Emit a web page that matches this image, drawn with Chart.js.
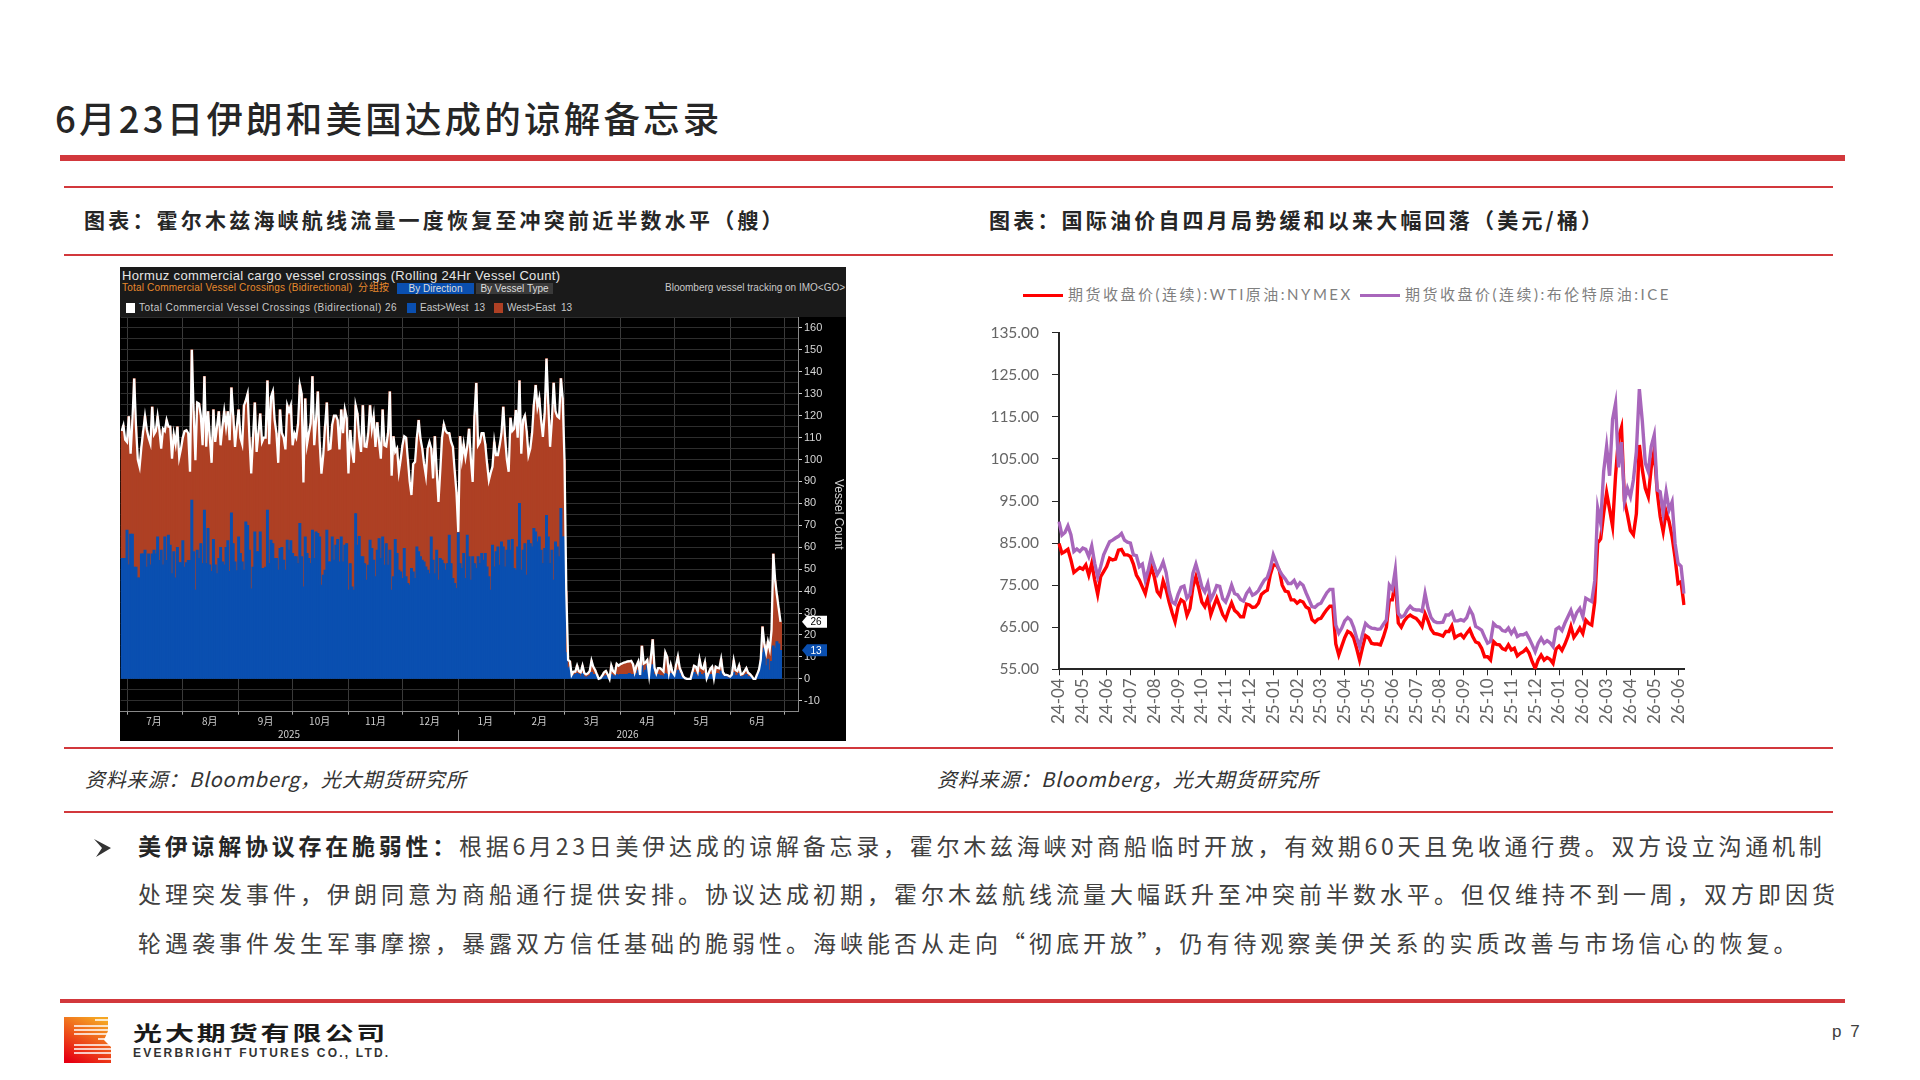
<!DOCTYPE html>
<html lang="zh-CN">
<head>
<meta charset="utf-8">
<title>6月23日伊朗和美国达成的谅解备忘录</title>
<script src="https://cdn.jsdelivr.net/npm/chart.js@4"></script>
<style>
    html, body { margin: 0; padding: 0; background: #fff; }
    #page { position: relative; width: 1920px; height: 1080px; overflow: hidden; font-family: "Noto Sans CJK SC", sans-serif; color: #262626; }
    #page div, #page svg, #page canvas { position: absolute; }
    .rule { background: #d2383c; left: 64px; width: 1769px; height: 2px; }
    .bar { background: #d2383c; left: 60px; width: 1785px; }
    .t { white-space: nowrap; line-height: 1; }
    .heading { font-size: 21px; font-weight: 700; letter-spacing: 3.2px; top: 209px; }
    .source { font-size: 20px; font-style: italic; letter-spacing: 0.8px; top: 769px; color: #333; }
    .body { font-size: 23px; letter-spacing: 4px; left: 138px; color: #404040; }
    .body b { color: #262626; }
    .bb { font-family: "Liberation Sans", sans-serif; font-size: 10px; color: #c9c9c9; }
    .swatch { width: 9px; height: 10px; top: 303px; }
    .btn { top: 283px; height: 11px; line-height: 11px; text-align: center; color: #ddd; }
    .oilLegend { font-size: 15px; letter-spacing: 2.5px; color: #7f7f7f; top: 287px; font-family: "Lato", "Noto Sans CJK SC", sans-serif; }
</style>
</head>
<body>
<div id="page">
    <div class="t" style="left:55px;top:100px;font-size:36.5px;font-weight:500;letter-spacing:3.2px;">6月23日伊朗和美国达成的谅解备忘录</div>
    <div class="bar" style="top:155px;height:6px;"></div>

    <div class="rule" style="top:186px;"></div>
    <div class="t heading" style="left:84px;">图表：霍尔木兹海峡航线流量一度恢复至冲突前近半数水平（艘）</div>
    <div class="t heading" style="left:989px;">图表：国际油价自四月局势缓和以来大幅回落（美元/桶）</div>
    <div class="rule" style="top:254px;"></div>

    <div style="left:120px;top:267px;width:726px;height:50px;background:#1a1a1a;overflow:hidden;"></div>
    <div class="t bb" style="left:122px;top:269px;font-size:13px;letter-spacing:0.35px;color:#e6e6e6;">Hormuz commercial cargo vessel crossings (Rolling 24Hr Vessel Count)</div>
    <div class="t bb" style="left:122px;top:283px;letter-spacing:0.2px;color:#e8892c;">Total Commercial Vessel Crossings (Bidirectional)&nbsp; 分组按</div>
    <div class="t bb btn" style="left:397px;width:77px;background:#0a4fb0;">By Direction</div>
    <div class="t bb btn" style="left:476px;width:77px;background:#3a3a3a;">By Vessel Type</div>
    <div class="t bb" style="left:665px;top:283px;width:181px;overflow:hidden;">Bloomberg vessel tracking on IMO&lt;GO&gt;</div>
    <div class="swatch" style="left:126px;background:#fff;"></div>
    <div class="t bb" style="left:139px;top:303px;letter-spacing:0.45px;">Total Commercial Vessel Crossings (Bidirectional) 26</div>
    <div class="swatch" style="left:407px;background:#0a4fb0;"></div>
    <div class="t bb" style="left:420px;top:303px;">East&gt;West&nbsp; 13</div>
    <div class="swatch" style="left:494px;background:#ae4024;"></div>
    <div class="t bb" style="left:507px;top:303px;">West&gt;East&nbsp; 13</div>
    <canvas id="vesselChart" style="left:120px;top:317px;width:726px;height:424px;background:#000;"></canvas>

    <div style="left:1023px;top:294px;width:40px;height:3px;background:#ff0000;"></div>
    <div class="t oilLegend" style="left:1068px;">期货收盘价(连续):WTI原油:NYMEX</div>
    <div style="left:1360px;top:294px;width:40px;height:3px;background:#a866bb;"></div>
    <div class="t oilLegend" style="left:1405px;">期货收盘价(连续):布伦特原油:ICE</div>
    <canvas id="oilChart" style="left:980px;top:320px;width:720px;height:420px;"></canvas>

    <div class="rule" style="top:747px;"></div>
    <div class="t source" style="left:85px;">资料来源：Bloomberg，光大期货研究所</div>
    <div class="t source" style="left:937px;">资料来源：Bloomberg，光大期货研究所</div>
    <div class="rule" style="top:811px;"></div>

    <svg style="left:93px;top:838px;" width="20" height="20" viewBox="0 0 20 20"><path d="M1 1 L18 10 L3 19 L9 10 Z" fill="#333"/></svg>
    <div class="t body" style="top:834px;letter-spacing:3.75px;"><b>美伊谅解协议存在脆弱性：</b>根据6月23日美伊达成的谅解备忘录，霍尔木兹海峡对商船临时开放，有效期60天且免收通行费。双方设立沟通机制</div>
    <div class="t body" style="top:882px;">处理突发事件，伊朗同意为商船通行提供安排。协议达成初期，霍尔木兹航线流量大幅跃升至冲突前半数水平。但仅维持不到一周，双方即因货</div>
    <div class="t body" style="top:931px;">轮遇袭事件发生军事摩擦，暴露双方信任基础的脆弱性。海峡能否从走向“彻底开放”，仍有待观察美伊关系的实质改善与市场信心的恢复。</div>

    <div class="bar" style="top:999px;height:4px;"></div>
    <svg style="left:64px;top:1017px;" width="47" height="46" viewBox="0 0 47 46">
        <defs><linearGradient id="logoFill" x1="0.7" y1="0" x2="0.2" y2="1"><stop offset="0" stop-color="#f5a623"/><stop offset="1" stop-color="#e60012"/></linearGradient></defs>
        <path d="M0 0H44V14L40 23L47 30V46H0Z" fill="url(#logoFill)"/>
        <path d="M10 9H47M10 13H47M10 17H47M10 28H47M10 32H47M10 36H47" stroke="#fff" stroke-width="1.6"/>
        <path d="M31 3H47M34 22H47M34 42H47" stroke="#fff" stroke-width="1.6"/>
    </svg>
    <div class="t" style="left:133px;top:1023px;font-size:20px;font-weight:700;letter-spacing:2px;color:#1a1a1a;transform:scaleX(1.45);transform-origin:left center;">光大期货有限公司</div>
    <div class="t" style="left:133px;top:1047px;font-size:12px;font-weight:700;letter-spacing:2.2px;color:#333;font-family:'Liberation Sans',sans-serif;">EVERBRIGHT FUTURES CO., LTD.</div>
    <div class="t" style="left:1832px;top:1023px;font-size:17px;letter-spacing:2px;color:#404040;font-family:'Liberation Sans',sans-serif;">p 7</div>
</div>

<script>
// Hormuz crossings, one value per day from 28 Jun 2025
const totalCrossings = [
    113,115.6,109,108,119.7,102.7,118,136.9,115,100,
    96.7,105.8,113,119.7,113.6,110,107.3,124,111.5,113,
    119.7,113.4,105,114,113,118,115,115,100.4,111.5,
    107,115,101,105,110,113,113.4,112,94.4,150,
    122,99.7,126,125.5,120,106.5,138,105.8,122,110,
    98.5,122.8,108,115,122,106.5,115,122,115,122,
    108.8,132.8,120,105.8,115,122.8,110,107,124.7,127,
    130,110,93.6,110,126,103.5,112,121,108,110,
    110,136,107,128.5,131,118,112,98.5,122.8,112,
    110,104.6,124.7,122,124.7,106.5,112,110,116,133.9,
    130,89.5,127.8,107,112,116.4,138,106.5,118,131,
    108,93.6,102,115,126,104.6,105,116,120,120,
    118,104.6,122.8,112,122.8,119,93.6,113.4,104,98.5,
    124.7,121,110,103.5,124.7,106,105.8,112,124.7,114,
    119.7,105.8,117,108,100.4,122.8,106.5,106,112,131,
    92.6,110.6,103.5,105,94.4,100,106.5,110.6,110,100,
    90,83.8,98,99,110,118,109.6,105,98,92.6,
    105,108,105,91.4,110.6,95,80.7,95,110,116,
    113,112,112,108,105.8,95,85,67,110.6,100.4,
    107,101,106,114,100,89.8,120,134.9,106.5,108,
    112,112,107,98,90.6,94,96.7,108,102,102,
    106.5,112,124,110,100,94.4,119,113,114,122.5,
    110,136,102.7,118,120,113,102,105,112,125,
    133.9,124,128,118,110.3,121,146,125,105.8,118,
    135,122,119.7,119,137,128,100,40,8.6,8,
    1.8,3.3,3.3,6,3.5,3,6,2.6,2,2.5,
    3.5,8.3,5.5,4,2,0,0.3,1.5,3,3.6,
    2,0,6,3.5,2.6,6.8,6,6.6,7,7.4,
    7.6,7.9,8,8.2,6.8,3,6,7.9,1.8,15,
    7,7.5,8.6,1.8,10,18,5,2.5,4.9,4.9,
    4.2,3.3,12,10,2.6,6.4,3,1.8,6.4,10.2,
    5,3,1,0.3,0,0,0,3,6,5.5,
    3.3,9,5,4.5,7.5,0.3,2.5,4.5,5.5,0.3,
    5.5,5,4.8,9,3,1.8,1.8,1.5,1,2,
    8.3,4,3.5,6,2,2.3,3.5,4.9,2.8,2.2,
    1.2,0,0,2,4,8.6,23.8,16,12,17,
    13.5,22,57,45,38,32,26
];
const eastWest = [
    55,55,55,67.8,52,66,66,51,51,46,
    46,57,57,58.7,51,57,52,57,58.7,57,
    64.8,54,58.7,52,64.8,54,65.5,61,48,58,
    46,60,53,53,63,51,53,54,54,81.5,
    58,40.5,58.7,55,61.7,52.6,77,52.6,68.6,52,
    49,63.6,52,48,55,60,53.4,52,60,63,
    49,75.7,61.7,53.4,49.3,64.8,57.2,53.4,49.6,71.6,
    70,58.7,41,51,67,58,58,67,50.4,50.4,
    51,77,52.6,63.3,61.7,54.9,54.9,49.6,59.5,60,
    54.2,49.6,63.3,58.7,63,57.2,55.7,55.7,52.6,70.9,
    55.7,42,64.8,57.2,54.9,52.6,67.8,54.9,67,66.3,
    64.8,42.8,47.3,49.6,67.8,53.4,53.4,64.8,54.2,61,
    63.6,53.4,64.8,53.4,61,61.7,40.5,52.6,42,40.5,
    75.4,61,65,55.7,55.7,52.6,45,51.9,63.3,59.5,
    54.2,46.6,58.7,64,54.9,64.8,51.9,61.7,51.9,58.7,
    40.5,46.6,63.6,57.2,49.6,48.8,45.8,59.5,46.6,43.5,
    42.8,50.4,48.8,45.8,60.2,58,55.7,54.2,53.4,51.1,
    49.6,48,64.8,54.2,48,58.7,45,54.9,54.2,52.6,
    49.6,52.6,65.5,52.6,45.8,43.5,41.3,66.6,52.6,50.4,
    57.2,45.8,65.5,55.7,45,55.7,52.6,50.4,55.7,52.6,
    57.2,54.2,57.2,51.1,46.6,40.5,61,51.1,58,60.2,
    51.9,62.5,60.2,51.1,58.7,63.3,58.7,63.6,50.4,49.6,
    60.2,80,49.6,58.7,61.7,47.3,63.3,61.7,60.2,68.6,
    67,62.5,64.8,58.7,52.6,59.5,74.6,64.8,52.6,58.7,
    45,62.5,60.2,55.7,77.7,64.8,64.8,12,5,5.5,
    1,1.5,2,2.5,2,1,2.5,1,0.5,1,
    1.5,3,2,2,1,0,0,0.5,1,1.5,
    0.5,0,2,1.5,1,2,1.5,2,2,2,
    2,2,2.5,2,2,1,2.5,4,1,6,
    3,4,6,0.5,5,6.5,2,1,2,1.5,
    1.5,1,2.5,2,1,2.5,2,1,2.5,4,
    2.5,1,0.5,0,0,0,0,1,3,2,
    1,3,2,1.5,2.5,0,1,2,2,0,
    2,2.5,2,3.5,1.5,1,1,0.5,0.5,1,
    3,1.5,1.5,2.5,1,1,1.5,2,1,1,
    0.5,0,0,1,3,8,12,14,6,9,
    4,8,15,14,17,16,13
];
const monthStartDays = [3,34,65,95,126,156,187,218,246,277,307,338,368];
const monthMidDays = [18,49,80,110,141,171,202,232,261,292,322,353];
const monthNames = ['7月','8月','9月','10月','11月','12月','1月','2月','3月','4月','5月','6月'];
const yearDays = [93,187,281];
const yearNames = ['2025','|','2026'];

// Oil closes, eight readings per month from 24-04
const oilMonths = ['24-04','24-05','24-06','24-07','24-08','24-09','24-10','24-11','24-12',
    '25-01','25-02','25-03','25-04','25-05','25-06','25-07','25-08','25-09','25-10','25-11','25-12',
    '26-01','26-02','26-03','26-04','26-05','26-06'];
const wtiClose = [
    84.9,82.6,83,83.5,81,78,78.6,79.2,
    78.8,79.8,77.4,80.2,76.2,72.8,77,78.2,
    79.4,81.4,81,81.2,83.3,83.5,82.2,82.2,
    81.8,80,77.4,76.2,74.6,73,76.2,79.4,
    77,73.5,72.5,76,74,71,68.5,66.3,
    69.9,71.5,71,67.8,69.5,74.6,77,74.2,
    71,69.9,71.9,68,70,71.9,70,68,
    66.9,69,70.8,69,68.4,67.5,67.5,70.5,
    70.3,69.7,69.8,70.7,72.8,73.4,73.8,77.5,
    79.8,79.8,78.6,75,73.6,73.4,71.5,71.5,
    70.7,71.3,71,69.8,69.4,66.8,66.2,66.9,
    67.1,68.2,69.2,70,70,61,58.4,60.5,
    62.5,64,63.6,62.5,60,57.2,60.2,63,
    62.5,61.2,61,61,60.8,62.7,65,71.5,
    71.5,76.2,66,65,66.5,67.4,67.9,67.4,
    67.1,66.3,65.2,68.2,66.5,64.5,63.5,63.4,
    63.2,62.9,64,64,65.3,62.5,63,63.3,
    62.5,63.6,64.5,62.8,61.5,61.2,60,58,
    58,57.2,61.6,60.9,60.8,59.9,59.6,60.8,
    59.6,60,58.2,58.8,59.2,59.9,58.8,56.8,
    55.2,57.2,58.4,57.2,57.8,57.4,56.4,59.8,
    60.5,59.5,61,62.8,65.2,62.6,63.6,64.8,
    63.5,66.7,65.9,65.5,71,85,86,92,
    97,93,89,101,110,112.5,95,91.7,
    88,87,92,108.3,102.4,98,96,103,
    107.1,97.2,91.3,87.7,92.5,90.1,86.5,81.5,
    75.4,75.8,70.3
];
const brentClose = [
    90.1,86.9,87.5,89.1,87,83,83.6,83,
    83.8,83.5,81.8,84.3,80.2,77,79.4,82.2,
    83.8,85.3,85.7,86.2,86.6,87.3,85.7,85.2,
    85,82.2,82,79.4,80,76.2,78.6,81.8,
    79.6,77.5,78.8,80.5,78,73.5,71,70.5,
    72.8,74.5,74.8,71.9,72.8,77.8,80,77.5,
    74.6,73.4,75.4,71.6,73,74.9,74.7,71.8,
    71,72.8,75,73,72.7,71.6,71.2,73,
    74,72.6,73,73.7,75,76.2,76.8,79,
    82.2,80.4,78.6,77.4,76.5,75.4,75.4,76.1,
    74.6,75.6,75,73.2,71.6,69.9,69.7,70.4,
    70.7,72,73.2,74,74,65.5,63.6,64.8,
    66.5,67.3,66.7,65,62.5,60.4,63.4,65.9,
    65.2,64.8,64.7,64.5,64.6,65.7,66.7,75,
    74,78.6,68.3,67.4,67.8,69.1,70,69.3,
    69.1,69.1,68.8,73,69.5,67.3,66.4,66.1,
    66.1,66.2,67.9,67.9,68.6,66.5,66.5,66.8,
    66.5,67.3,69.3,68,65.2,64.8,64.3,62.7,
    61.2,61.6,65.9,65.2,65,64.2,64,64.8,
    63.5,64.5,62.8,63.2,63.2,63.6,62.3,60.8,
    59.2,61.2,62.4,61.2,61.8,61.3,60.4,64.5,
    65,64.2,66,67.5,69,66.7,68.5,69.5,
    67.5,71.9,71.5,71.1,76,93.3,89.7,102,
    108,101,114.4,118.2,103,109,95,98,
    96,100,106.8,121.6,113.9,104,102,108,
    110.7,97.6,97.2,92.1,97.2,92.9,94.8,84.9,
    80.2,79.5,73
];

const POINTS_PER_MONTH = 8;

// the end tick labels add padding to the plot area, the layout here is fixed so drop it
function fixAxisSize(scale, size) {
    if (scale.isHorizontal()) scale.height = size;
    else scale.width = size;
    scale.paddingTop = 0;
    scale.paddingBottom = 0;
    scale.paddingLeft = 0;
    scale.paddingRight = 0;
}

function drawVesselChart() {
    const westEast = totalCrossings.map((v, i) => Math.max(v - eastWest[i], 0));
    const dayIndex = totalCrossings.map((v, i) => i);
    const dayMin = -0.5;
    const dayMax = 375.7;
    const labelFont = { family: '"Noto Sans CJK SC", sans-serif', size: 10 };

    // value flags on the right axis, same as the terminal shows them
    const lastValueTags = {
        id: 'lastValueTags',
        afterDraw(chart) {
            const ctx = chart.ctx;
            const scale = chart.scales.y;
            const tags = [
                { value: totalCrossings[totalCrossings.length - 1], bg: '#fff', fg: '#000' },
                { value: eastWest[eastWest.length - 1], bg: '#0a4fb0', fg: '#fff' }
            ];
            tags.forEach(tag => {
                const y = scale.getPixelForValue(tag.value);
                const x = scale.left + 4;
                ctx.save();
                ctx.fillStyle = tag.bg;
                ctx.beginPath();
                ctx.moveTo(x, y);
                ctx.lineTo(x + 5, y - 6);
                ctx.lineTo(x + 25, y - 6);
                ctx.lineTo(x + 25, y + 6);
                ctx.lineTo(x + 5, y + 6);
                ctx.closePath();
                ctx.fill();
                ctx.fillStyle = tag.fg;
                ctx.font = '10px "Liberation Sans", sans-serif';
                ctx.textAlign = 'center';
                ctx.textBaseline = 'middle';
                ctx.fillText(tag.value, x + 14, y + 0.5);
                ctx.restore();
            });
        }
    };

    new Chart(document.getElementById('vesselChart'), {
        type: 'bar',
        plugins: [lastValueTags],
        data: {
            labels: dayIndex,
            datasets: [
                { type: 'line', label: 'Total Commercial Vessel Crossings (Bidirectional)', data: totalCrossings, stack: 'total', borderColor: '#fff', borderWidth: 2.3, pointRadius: 0, tension: 0, order: 0 },
                { label: 'East>West', data: eastWest, stack: 'direction', backgroundColor: '#0a4fb0', barThickness: 2.3, order: 1 },
                { label: 'West>East', data: westEast, stack: 'direction', backgroundColor: '#ae4024', barThickness: 2.3, order: 2 }
            ]
        },
        options: {
            responsive: false,
            animation: false,
            devicePixelRatio: 1,
            layout: { padding: { left: 0.7, right: 0, top: 0, bottom: 0 } },
            plugins: { legend: { display: false }, tooltip: { enabled: false } },
            scales: {
                x: {
                    type: 'linear', position: 'bottom', min: dayMin, max: dayMax, stacked: true, offset: false,
                    afterBuildTicks: s => { s.ticks = monthStartDays.map(d => ({ value: d })); },
                    afterFit: s => fixAxisSize(s, 3),
                    grid: { offset: false, color: '#3a3a3a', tickLength: 3, tickColor: '#aaa' },
                    border: { color: '#888' },
                    ticks: { display: false, autoSkip: false }
                },
                months: {
                    type: 'linear', axis: 'x', position: 'bottom', min: dayMin, max: dayMax, offset: false,
                    afterBuildTicks: s => { s.ticks = monthMidDays.map(d => ({ value: d })); },
                    afterFit: s => fixAxisSize(s, 14),
                    grid: { display: false, drawTicks: false, offset: false }, border: { display: false },
                    ticks: { autoSkip: false, maxRotation: 0, padding: 1, color: '#cfcfcf', font: labelFont,
                        callback: v => monthNames[monthMidDays.indexOf(v)] }
                },
                years: {
                    type: 'linear', axis: 'x', position: 'bottom', min: dayMin, max: dayMax, offset: false,
                    afterBuildTicks: s => { s.ticks = yearDays.map(d => ({ value: d })); },
                    afterFit: s => fixAxisSize(s, 12.3),
                    grid: { display: false, drawTicks: false, offset: false }, border: { display: false },
                    ticks: { autoSkip: false, maxRotation: 0, padding: 0, color: '#cfcfcf', font: labelFont,
                        callback: v => yearNames[yearDays.indexOf(v)] }
                },
                y: {
                    position: 'right', min: -15, max: 165, stacked: true,
                    afterFit: s => fixAxisSize(s, 48),
                    grid: { color: '#2e2e2e', tickLength: 4, tickColor: c => (c.tick.value % 10 === 0 ? '#ccc' : 'transparent') },
                    border: { color: '#888' },
                    title: { display: true, text: 'Vessel Count', color: '#d5d5d5', padding: { top: 0, bottom: 6 },
                        font: { family: '"Liberation Sans", sans-serif', size: 12 } },
                    ticks: { stepSize: 5, autoSkip: false, padding: 2, color: '#d5d5d5',
                        font: { family: '"Liberation Sans", sans-serif', size: 11 },
                        callback: v => (v % 10 === 0 ? v : '') }
                }
            }
        }
    });
}

function drawOilChart() {
    const oilLabels = oilMonths.flatMap(m => Array(POINTS_PER_MONTH).fill(m)).slice(0, wtiClose.length);
    const axisFont = { family: 'Lato, sans-serif', size: 15.5 };

    new Chart(document.getElementById('oilChart'), {
        type: 'line',
        data: {
            labels: oilLabels,
            datasets: [
                { label: '期货收盘价(连续):布伦特原油:ICE', data: brentClose, borderColor: '#a866bb', borderWidth: 3.4, pointRadius: 0, tension: 0, order: 0 },
                { label: '期货收盘价(连续):WTI原油:NYMEX', data: wtiClose, borderColor: '#ff0000', borderWidth: 3.4, pointRadius: 0, tension: 0, order: 1 }
            ]
        },
        options: {
            responsive: false,
            animation: false,
            devicePixelRatio: 1,
            layout: { padding: { left: 0, right: 16, top: 12.7, bottom: 0 } },
            plugins: { legend: { display: false }, tooltip: { enabled: false } },
            scales: {
                x: {
                    offset: false,
                    afterBuildTicks: s => { s.ticks = s.ticks.filter(t => t.value % POINTS_PER_MONTH === 0); },
                    afterFit: s => fixAxisSize(s, 70.7),
                    grid: { drawOnChartArea: false, color: '#262626', tickLength: 6 },
                    border: { color: '#262626', width: 2 },
                    ticks: { autoSkip: false, minRotation: 90, maxRotation: 90, padding: 3, color: '#666',
                        font: { family: 'Lato, sans-serif', size: 17 },
                        callback(v) { return this.getLabelForValue(v); } }
                },
                y: {
                    min: 55, max: 135,
                    afterFit: s => fixAxisSize(s, 79),
                    grid: { drawOnChartArea: false, color: '#262626', tickLength: 7 },
                    border: { color: '#262626', width: 2 },
                    ticks: { stepSize: 10, padding: 13, color: '#666', font: axisFont,
                        callback: v => v.toFixed(2) }
                }
            }
        }
    });
}

drawVesselChart();
drawOilChart();
</script>
</body>
</html>
